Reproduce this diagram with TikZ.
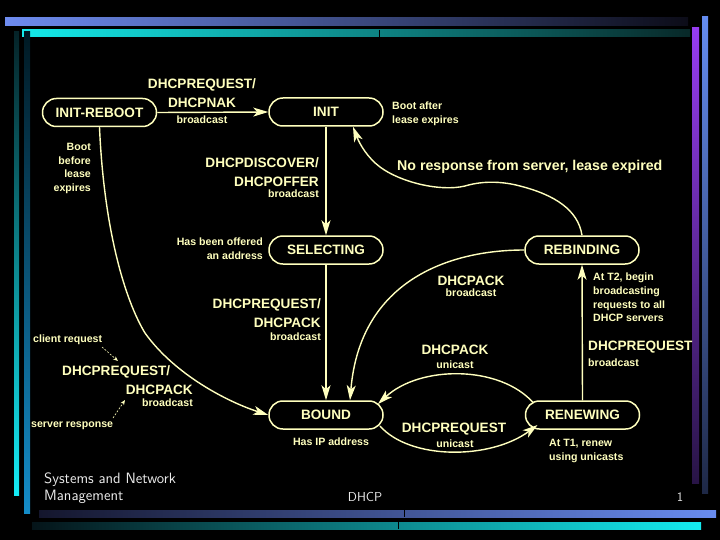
\documentclass[tikz,border=0pt]{standalone}
\usepackage{fontspec}
\setmainfont{Liberation Sans}
\usetikzlibrary{arrows.meta}
\definecolor{fg}{RGB}{255,255,190}
\definecolor{foot}{RGB}{235,235,235}
\begin{document}
\begin{tikzpicture}[x=1pt,y=-1pt,
  state/.style={draw=fg,line width=1.5pt,rounded corners=13.9pt,minimum width=114pt,minimum height=28pt,
    inner sep=0pt,text=fg,font=\bfseries\fontsize{13.6}{16}\selectfont},
  big/.style={inner sep=0pt,text=fg,font=\bfseries\fontsize{13.6}{19.5}\selectfont},
  sml/.style={inner sep=0pt,text=fg,font=\bfseries\fontsize{10.6}{13.7}\selectfont},
  conn/.style={draw=fg,line width=1.4pt,-{Stealth[length=15pt,width=9pt,inset=4pt]}},
  hint/.style={draw=fg,line width=0.6pt,dash pattern=on 2pt off 1.5pt,-{Stealth[length=5pt,width=4pt]}},
  ftext/.style={inner sep=0pt,text=foot,font=\sffamily\fontsize{13}{16}\selectfont}]
\useasboundingbox (0,0) rectangle (720,540);
\fill[black] (0,0) rectangle (720,540);
% decorative bars
\shade[left color={rgb,255:red,110;green,140;blue,240},right color={rgb,255:red,12;green,12;blue,24}] (5,18) rectangle (688,26);
\shade[left color={rgb,255:red,20;green,235;blue,235},right color={rgb,255:red,8;green,40;blue,40}] (22,30) rectangle (690,37);
\draw[black,line width=0.6pt] (379,30) -- (379,37);
\shade[top color={rgb,255:red,5;green,35;blue,40},bottom color={rgb,255:red,20;green,235;blue,245}] (14,32) rectangle (19,495);
\shade[top color={rgb,255:red,0;green,25;blue,35},bottom color={rgb,255:red,20;green,140;blue,200}] (24,32) rectangle (30,513);
\shade[top color={rgb,255:red,150;green,60;blue,240},bottom color={rgb,255:red,40;green,20;blue,70}] (692,28) rectangle (699,483);
\shade[top color={rgb,255:red,100;green,140;blue,240},bottom color={rgb,255:red,30;green,40;blue,70}] (702,17) rectangle (708,493);
\shade[left color={rgb,255:red,20;green,22;blue,45},right color={rgb,255:red,105;green,140;blue,240}] (39,510) rectangle (716,517);
\draw[black,line width=0.6pt] (404,510) -- (404,517);
\shade[left color={rgb,255:red,5;green,20;blue,25},right color={rgb,255:red,20;green,235;blue,240}] (32,522) rectangle (701,529);
\draw[black,line width=0.6pt] (398,522) -- (398,529);
% states
\node[state] (ir) at (99.5,112.5) {INIT-REBOOT};
\node[state] (init) at (326,112) {INIT};
\node[state] (sel) at (326,250) {SELECTING};
\node[state] (reb) at (582,250) {REBINDING};
\node[state] (bound) at (326,415) {BOUND};
\node[state] (ren) at (582.5,415) {RENEWING};
% labels
\node[big,align=center,anchor=north] (l1) at (202,78) {DHCPREQUEST/\\DHCPNAK};
\node[sml] (l1b) at (202,120) {broadcast};
\node[sml,align=right,anchor=north east] (l2) at (91,143) {Boot\\before\\lease\\expires};
\node[sml,align=left,anchor=north west] (l3) at (392,102) {Boot after\\lease expires};
\node[big,align=right,anchor=north east] (l4) at (319,157) {DHCPDISCOVER/\\DHCPOFFER};
\node[sml,anchor=east] (l4b) at (319,194) {broadcast};
\node[big,anchor=west,font=\bfseries\fontsize{14.2}{17}\selectfont] (l5) at (397,167) {No response from server, lease expired};
\node[sml,align=right,anchor=north east] (l6) at (263,238) {Has been offered\\an address};
\node[big,align=right,anchor=north east] (l7) at (321,298) {DHCPREQUEST/\\DHCPACK};
\node[sml,anchor=east] (l7b) at (321,337) {broadcast};
\node[sml,anchor=west] (l8) at (33,340) {client request};
\node[big,anchor=west] (l9) at (62,372) {DHCPREQUEST/};
\node[big,anchor=east] (l9b) at (193,390) {DHCPACK};
\node[sml,anchor=east] (l9c) at (193,403) {broadcast};
\node[sml,anchor=west] (l10) at (31,426) {server response};
\node[sml] (l11) at (331,442) {Has IP address};
\node[big] (l12) at (471,281) {DHCPACK};
\node[sml] (l12b) at (471,293) {broadcast};
\node[sml,align=left,anchor=north west] (l13) at (593,273) {At T2, begin\\broadcasting\\requests to all\\DHCP servers};
\node[big,anchor=west] (l14) at (588,347) {DHCPREQUEST};
\node[sml,anchor=west] (l14b) at (588,363) {broadcast};
\node[big] (l15) at (455,350) {DHCPACK};
\node[sml] (l15b) at (455,365) {unicast};
\node[big] (l16) at (454,429) {DHCPREQUEST};
\node[sml] (l16b) at (455,444) {unicast};
\node[sml,align=left,anchor=north west] (l17) at (549,439) {At T1, renew\\using unicasts};
% footer
\node[ftext,align=left,anchor=north west,font=\sffamily\fontsize{15}{16.5}\selectfont] (f1) at (44,473) {Systems and Network\\Management};
\node[ftext] (f2) at (365,497) {DHCP};
\node[ftext] (f3) at (680,497) {1};
% connectors
\draw[conn] (ir.east) -- (init.west);
\draw[conn] (init.south) -- (sel.north);
\draw[conn] (sel.south) -- (bound.north);
\draw[conn] (ren.north) -- (reb.south);
\draw[conn] (ir.south) .. controls (104,230) and (125,300) .. (145,333) .. controls (175,375) and (228,402) .. (bound.west);
\draw[conn] (reb.north) .. controls (578,210) and (555,195) .. (520,186) .. controls (505,182) and (485,180) .. (465,186) .. controls (440,192) and (400,182) .. (380,167) .. controls (368,158) and (360,145) .. ([xshift=27pt]init.south);
\draw[conn] (reb.west) .. controls (450,250) and (360,280) .. ([xshift=24pt]bound.north);
\draw[conn] ([shift={(-49,-12)}]ren.center) .. controls (500,365) and (420,365) .. ([shift={(52,-11)}]bound.center);
\draw[conn] ([shift={(54,11)}]bound.center) .. controls (410,460) and (490,460) .. ([shift={(-45,10)}]ren.center);
% hint arrows
\coordinate (h1a) at (102,347);
\coordinate (h1b) at (118,361);
\coordinate (h2a) at (113,418);
\coordinate (h2b) at (125,400);
\draw[hint] (h1a) -- (h1b);
\draw[hint] (h2a) -- (h2b);
\end{tikzpicture}
\end{document}
